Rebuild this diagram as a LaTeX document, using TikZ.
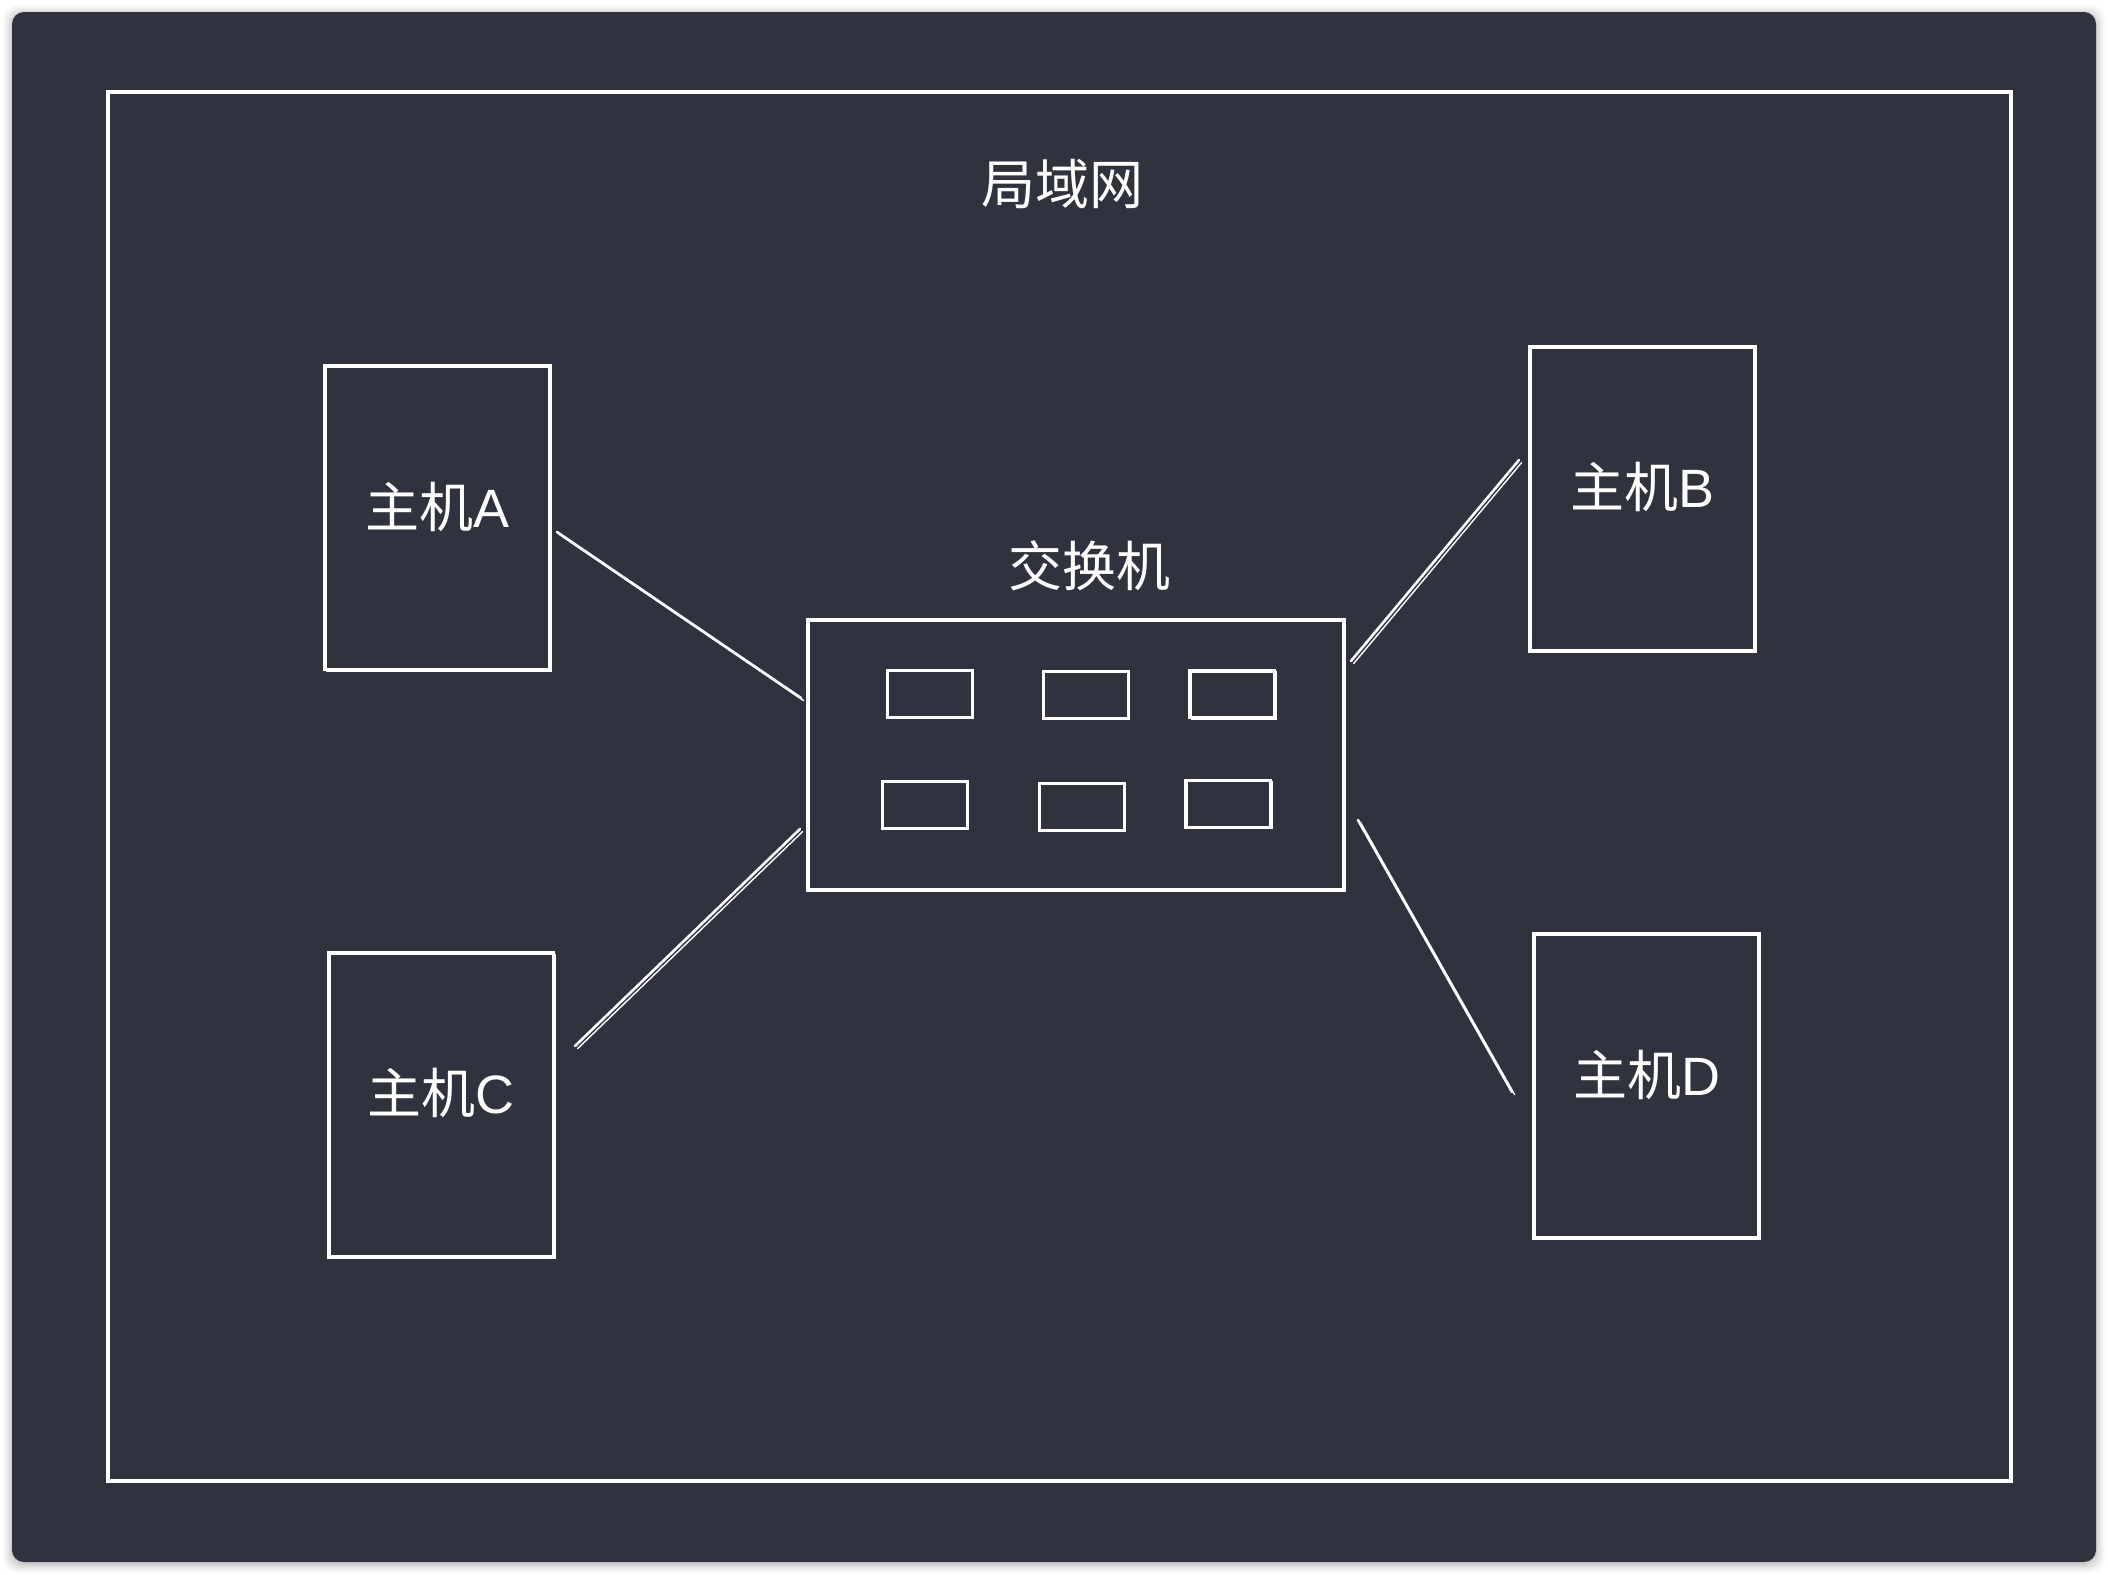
\documentclass[tikz,border=0pt]{standalone}
\usepackage{fontspec}
\setmainfont{Noto Sans CJK SC}
\newfontfamily\latinfont{Liberation Sans}
\definecolor{panel}{RGB}{48,50,62}
\begin{document}
\begin{tikzpicture}[x=0.5pt,y=-0.5pt,
  sk/.style={draw=white,line width=1.6pt,
    postaction={draw=white,line width=0.6pt,transform canvas={shift={(0.9pt,-0.7pt)}}}},
  host/.style={sk,minimum width=112.5pt,minimum height=152pt,inner sep=0pt},
  port/.style={sk,line width=1.5pt,minimum width=42.5pt,minimum height=23.5pt,inner sep=0pt},
  lbl/.style={text=white,font=\fontsize{27}{30}\selectfont},
  link/.style={draw=white,line width=1.3pt,line cap=round,
    postaction={draw=white,line width=0.7pt,transform canvas={shift={(1.3pt,-1.3pt)}}}}]
\fill[white] (0,0) rectangle (2108,1574);
\useasboundingbox (0,0) rectangle (2108,1574);
\foreach \i/\o in {9/0.025,7/0.03,5/0.04,3/0.05,1/0.06}
  \fill[black,opacity=\o,rounded corners=7pt] (12-\i,14-\i) rectangle (2096+\i,1564+\i);
\fill[panel,rounded corners=6pt] (12,12) rectangle (2096,1562);
% LAN frame
\node[sk,minimum width=951.5pt,minimum height=694.5pt,inner sep=0pt] (lan) at (1059.5,786.5) {};
\node[lbl] (title) at (1062,184) {局域网};
% hosts
\node[host,label={[lbl,yshift=5.5pt]center:主机{\latinfont A}}] (A) at (437.5,517.5) {};
\node[host,label={[lbl,yshift=6pt]center:主机{\latinfont B}}] (B) at (1642.5,499) {};
\node[host,label={[lbl,yshift=6pt]center:主机{\latinfont C}}] (C) at (441,1105) {};
\node[host,label={[lbl,yshift=5.5pt]center:主机{\latinfont D}}] (D) at (1646.5,1086) {};
% switch
\node[sk,minimum width=268pt,minimum height=135pt,inner sep=0pt] (sw) at (1076,755) {};
\node[lbl] (swlabel) at (1089,566) {交换机};
\node[port] (p1) at (929.5,693.5) {};
\node[port] (p2) at (1085.5,694.5) {};
\node[port] (p3) at (1232,694) {};
\node[port] (p4) at (924.5,804.5) {};
\node[port] (p5) at (1081.5,806.5) {};
\node[port] (p6) at (1228,803.5) {};
% connector ends
\coordinate (a1) at (557,532);  \coordinate (a2) at (801,698);
\coordinate (c1) at (575,1046); \coordinate (c2) at (800,829);
\coordinate (b1) at (1519,460); \coordinate (b2) at (1351,661);
\coordinate (d1) at (1358,820); \coordinate (d2) at (1512,1092);
\draw[link] (a1) -- (a2);
\draw[link] (c1) -- (c2);
\draw[link] (b1) -- (b2);
\draw[link] (d1) -- (d2);
\end{tikzpicture}
\end{document}
